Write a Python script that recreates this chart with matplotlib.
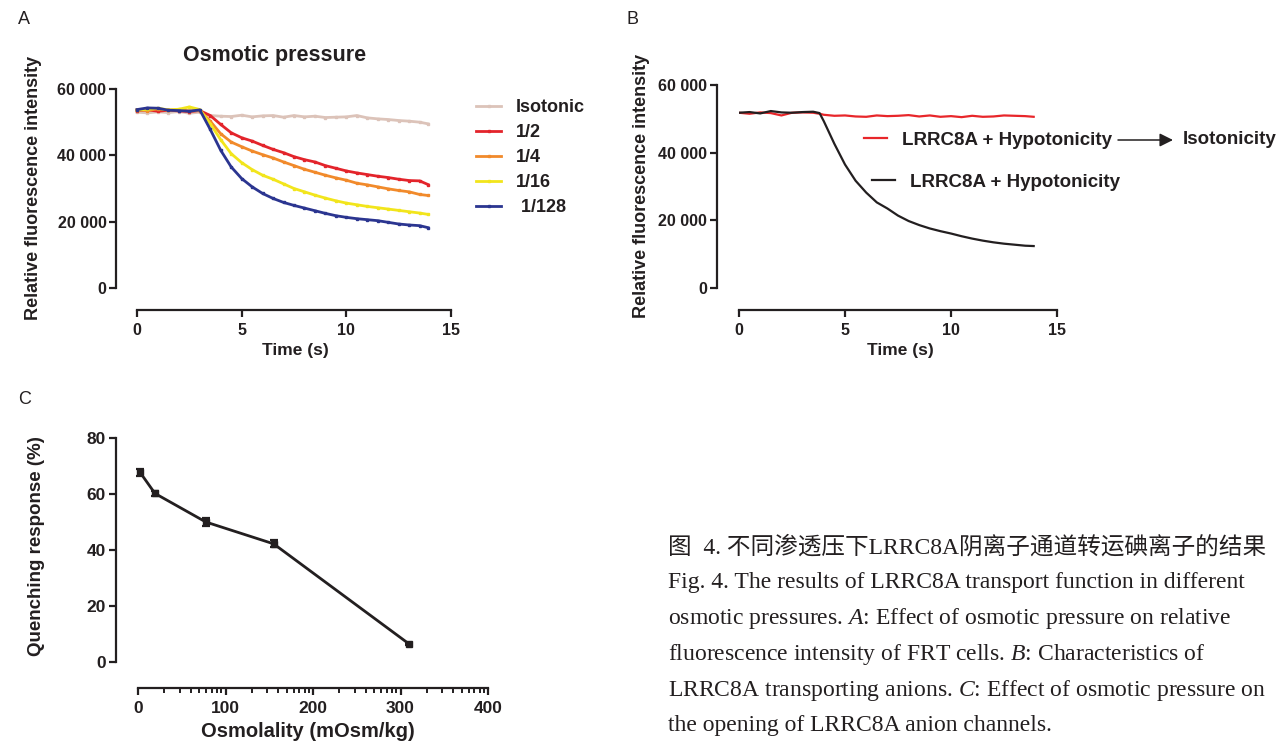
import numpy as np
import matplotlib
matplotlib.use("Agg")
import matplotlib.pyplot as plt

plt.rcParams['font.family'] = ['Liberation Sans', 'DejaVu Sans']
plt.rcParams['font.weight'] = 'bold'
plt.rcParams['axes.labelweight'] = 'bold'
plt.rcParams['mathtext.fontset'] = 'custom'
plt.rcParams['mathtext.rm'] = 'Liberation Serif:weight=normal'
plt.rcParams['mathtext.it'] = 'Liberation Serif:italic:weight=normal'

ink = '#231f20'

# ---- panel A data (time in s, relative fluorescence) ----
t_a = [0, 0.5, 1, 1.5, 2, 2.5, 3, 3.5, 4, 4.5, 5, 5.5, 6, 6.5, 7, 7.5, 8, 8.5,
       9, 9.5, 10, 10.5, 11, 11.5, 12, 12.5, 13, 13.5, 13.9]
isotonic = [53000, 52800, 53100, 52900, 53200, 52700, 53000, 52000, 51800, 51700,
            52100, 51600, 51900, 52000, 51500, 52000, 51600, 51800, 51400, 51500,
            51600, 52000, 51300, 51000, 50800, 50500, 50300, 50000, 49500]
half = [53500, 53700, 53300, 53600, 53400, 53200, 53500, 52000, 49300, 46800,
        45300, 44300, 43000, 41800, 40800, 39600, 38700, 38000, 36900, 36100,
        35300, 34700, 34200, 33700, 33300, 32800, 32400, 32300, 31200]
quarter = [53800, 53500, 54000, 53600, 53800, 53400, 53500, 50300, 46500, 44000,
           42600, 41300, 40200, 39200, 38000, 36900, 35800, 34900, 34000, 33200,
           32500, 31600, 31100, 30500, 29900, 29400, 29000, 28200, 27900]
sixteenth = [53600, 53900, 54200, 53700, 53900, 54600, 53800, 49500, 44700, 40500,
             37800, 35700, 34000, 32800, 31400, 30000, 29000, 28000, 27100, 26300,
             25600, 25100, 24600, 24200, 23800, 23400, 23000, 22600, 22200]
one128 = [53800, 54300, 54200, 53600, 53500, 53300, 53700, 47800, 41500, 36500,
          33000, 30500, 28500, 27000, 25800, 24900, 24100, 23300, 22500, 21800,
          21300, 20900, 20600, 20300, 19800, 19300, 19000, 18800, 18200]
a_labels = ['Isotonic', '1/2', '1/4', '1/16', ' 1/128']
a_colors = ['#dcc3b9', '#e3242b', '#f18a2b', '#f2e51c', '#2b3590']

# ---- panel B data ----
t_b = [0, 0.5, 1, 1.5, 2, 2.5, 3, 3.5, 3.8, 4, 4.5, 5, 5.5, 6, 6.5, 7, 7.5, 8, 8.5,
       9, 9.5, 10, 10.5, 11, 11.5, 12, 12.5, 13, 13.5, 13.9]
b_iso = [51800, 51500, 51900, 51700, 51000, 51800, 51900, 51800, 51500, 51200, 50900,
         51000, 50700, 50600, 51000, 50800, 50900, 51100, 50700, 51000, 50600,
         50800, 50500, 50900, 50600, 50700, 51000, 50900, 50800, 50600]
b_hypo = [51800, 52000, 51600, 52300, 51900, 51800, 52000, 52100, 51700, 49300, 42600,
          36500, 31700, 28200, 25300, 23500, 21400, 19800, 18600, 17600, 16800,
          16100, 15300, 14600, 14000, 13500, 13100, 12800, 12500, 12400]

# ---- panel C data ----
osmolality = [2.4, 19.4, 77.5, 155, 310]
quench = [67.7, 60.2, 50.0, 42.2, 6.4]
quench_err = [1.2, 1.0, 1.3, 1.2, 0.5]

caption = [
    "图  4. 不同渗透压下LRRC8A阴离子通道转运碘离子的结果",
    "Fig. 4. The results of LRRC8A transport function in different",
    r"osmotic pressures. $\mathit{A}$: Effect of osmotic pressure on relative",
    r"fluorescence intensity of FRT cells. $\mathit{B}$: Characteristics of",
    r"LRRC8A transporting anions. $\mathit{C}$: Effect of osmotic pressure on",
    "the opening of LRRC8A anion channels.",
]

W, H = 1277, 744
fig = plt.figure(figsize=(W / 100, H / 100), dpi=100)


def px(x, y):
    return x / W, 1 - y / H


def style(ax, left_off, bottom_off, size=11.5):
    for s in ['top', 'right']:
        ax.spines[s].set_visible(False)
    ax.spines['left'].set_position(('outward', left_off))
    ax.spines['bottom'].set_position(('outward', bottom_off))
    for s in ['left', 'bottom']:
        ax.spines[s].set_linewidth(1.6)
        ax.spines[s].set_color(ink)
    ax.tick_params(which='major', length=5, width=1.6, color=ink,
                   labelsize=size, labelcolor=ink, pad=2)
    ax.tick_params(axis='x', pad=4)


# ---------------- A ----------------
axA = fig.add_axes([137 / W, 1 - 288 / H, 314 / W, 199 / H])
for ys, c, lab in zip([isotonic, half, quarter, sixteenth, one128], a_colors, a_labels):
    axA.plot(t_a, ys, color=c, lw=2, marker='s', ms=1.8, label=lab, clip_on=False)
axA.set_xlim(0, 15)
axA.set_ylim(0, 60000)
axA.set_xticks([0, 5, 10, 15])
axA.set_yticks([0, 20000, 40000, 60000], ['0', '20 000', '40 000', '60 000'])
axA.spines['left'].set_bounds(0, 60000)
axA.spines['bottom'].set_bounds(0, 15)
style(axA, 15, 16)
axA.set_xlabel('Time (s)', fontsize=12.5, color=ink)
axA.xaxis.set_label_coords(*px(295, 343), transform=fig.transFigure)
axA.set_ylabel('Relative fluorescence intensity', fontsize=13, color=ink)
axA.yaxis.set_label_coords(*px(42, 188), transform=fig.transFigure)
fig.text(*px(275, 55), 'Osmotic pressure', fontsize=15.5, ha='center', va='center', color=ink)
axA.legend(loc='upper left', bbox_to_anchor=px(476, 99), bbox_transform=fig.transFigure,
           frameon=False, fontsize=13, handlelength=1.4, handletextpad=0.8,
           labelspacing=0.45, borderpad=0, borderaxespad=0, labelcolor=ink)

# ---------------- B ----------------
axB = fig.add_axes([739 / W, 1 - 288 / H, 318 / W, 203 / H])
l_iso, = axB.plot(t_b, b_iso, color='#e8262a', lw=1.6)
l_hyp, = axB.plot(t_b, b_hypo, color=ink, lw=1.6)
axB.set_xlim(0, 15)
axB.set_ylim(0, 60000)
axB.set_xticks([0, 5, 10, 15])
axB.set_yticks([0, 20000, 40000, 60000], ['0', '20 000', '40 000', '60 000'])
axB.spines['left'].set_bounds(0, 60000)
axB.spines['bottom'].set_bounds(0, 15)
style(axB, 16, 16)
axB.set_xlabel('Time (s)', fontsize=12.5, color=ink)
axB.xaxis.set_label_coords(*px(900, 343), transform=fig.transFigure)
axB.set_ylabel('Relative fluorescence intensity', fontsize=13, color=ink)
axB.yaxis.set_label_coords(*px(650, 186), transform=fig.transFigure)
legB1 = axB.legend([l_iso], ['LRRC8A + Hypotonicity'], loc='center left',
                   bbox_to_anchor=px(864, 140), bbox_transform=fig.transFigure,
                   frameon=False, fontsize=13.5, handlelength=1.25, handletextpad=0.8,
                   borderpad=0, borderaxespad=0, labelcolor=ink)
axB.add_artist(legB1)
axB.legend([l_hyp], ['LRRC8A + Hypotonicity'], loc='center left',
           bbox_to_anchor=px(872, 182), bbox_transform=fig.transFigure,
           frameon=False, fontsize=13.5, handlelength=1.25, handletextpad=0.8,
           borderpad=0, borderaxespad=0, labelcolor=ink)
fig.add_artist(plt.Annotation('', xy=px(1173, 140), xytext=px(1118, 140),
                              xycoords='figure fraction',
                              arrowprops=dict(arrowstyle='-|>', color=ink, lw=1.1,
                                              mutation_scale=20, shrinkA=0, shrinkB=0)))
fig.text(*px(1183, 140), 'Isotonicity', fontsize=13.5, ha='left', va='center', color=ink)

# ---------------- C ----------------
axC = fig.add_axes([138 / W, 1 - 662 / H, 350 / W, 224 / H])
axC.errorbar(osmolality, quench, yerr=quench_err, fmt='s-', color=ink, lw=2, ms=4,
             elinewidth=1.6, capsize=3, capthick=1.6, clip_on=False)
axC.set_xlim(0, 400)
axC.set_ylim(0, 80)
axC.set_xticks([0, 100, 200, 300, 400])
axC.set_xticks([100 * (n + np.log10(k)) for n in range(4) for k in range(2, 10)], minor=True)
axC.set_yticks([0, 20, 40, 60, 80])
axC.spines['left'].set_bounds(0, 80)
axC.spines['bottom'].set_bounds(0, 400)
style(axC, 16, 19, size=12.5)
axC.tick_params(axis='x', which='minor', length=3.5, width=1.4, color=ink)
axC.set_xlabel('Osmolality (mOsm/kg)', fontsize=14.5, color=ink)
axC.xaxis.set_label_coords(*px(308, 722), transform=fig.transFigure)
axC.set_ylabel('Quenching response (%)', fontsize=13.5, color=ink)
axC.yaxis.set_label_coords(*px(45, 546), transform=fig.transFigure)

# panel letters
for letter, (x, y) in zip('ABC', [(18, 20), (626, 20), (18, 400)]):
    fig.text(*px(x, y), letter, fontsize=13, fontweight='normal', ha='left',
             va='center', color=ink)

# caption
for i, line in enumerate(caption):
    fig.text(*px(668, 547 + 35.8 * i), line, fontsize=17, fontweight='normal',
             family=['Liberation Serif', 'Noto Sans CJK SC'], ha='left', va='center',
             color=ink)

fig.savefig('out.png', dpi=100)
